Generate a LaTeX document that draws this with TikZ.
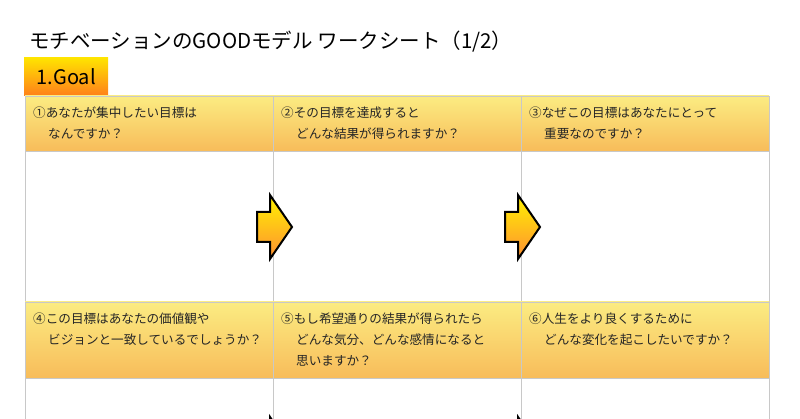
\documentclass[tikz,border=0pt]{standalone}
\usepackage{fontspec}
\setmainfont{Noto Sans CJK JP}
\begin{document}
\begin{tikzpicture}[x=1pt,y=-1pt,
  hdr/.style={top color=hy,bottom color=ho,draw=gline,line width=0.8pt},
  cell/.style={draw=gline,line width=0.8pt,fill=white},
  qtext/.style={anchor=north west,align=left,font=\fontsize{12.6}{21}\selectfont,text=black!85,inner sep=0pt},
  arr/.style={draw=black,line width=2pt,top color=yellow!90!orange,bottom color=orange!90!red!80,line join=miter}]
\definecolor{hy}{HTML}{FBEC82}
\definecolor{ho}{HTML}{F8BC5A}
\definecolor{gline}{HTML}{C8C8C8}
\useasboundingbox (0,0) rectangle (800,419);
\clip (0,0) rectangle (800,419);
\node[anchor=west,inner sep=0pt,font=\fontsize{20.5}{22}\selectfont] (title) at (29,42) {モチベーションのGOODモデル ワークシート（1/2）};
\node[anchor=north west,minimum width=84pt,minimum height=38pt,top color=yellow!80!orange,bottom color=orange!90!red!90,inner sep=0pt,font=\fontsize{20}{22}\selectfont] (goal) at (24,57) {1.Goal};
\foreach \i/\x in {1/25,2/273,3/521}{
  \draw[cell] (\x,151) rectangle ++(248,151);
  \draw[cell] (\x,378) rectangle ++(248,60);
  \draw[hdr] (\x,96) rectangle ++(248,55);
  \draw[hdr] (\x,302) rectangle ++(248,76);
}
\node[qtext] (q1) at (33,107) {①あなたが集中したい目標は\\\hspace{15pt}なんですか？};
\node[qtext] (q2) at (281,107) {②その目標を達成すると\\\hspace{15pt}どんな結果が得られますか？};
\node[qtext] (q3) at (529,107) {③なぜこの目標はあなたにとって\\\hspace{15pt}重要なのですか？};
\node[qtext] (q4) at (33,313) {④この目標はあなたの価値観や\\\hspace{15pt}ビジョンと一致しているでしょうか？};
\node[qtext] (q5) at (281,313) {⑤もし希望通りの結果が得られたら\\\hspace{15pt}どんな気分、どんな感情になると\\\hspace{15pt}思いますか？};
\node[qtext] (q6) at (529,313) {⑥人生をより良くするために\\\hspace{15pt}どんな変化を起こしたいですか？};
\foreach \dx/\dy in {0/0,248/0,0/222,248/222}{
  \draw[arr,shift={(\dx,\dy)}] (257,212) -- (270,212) -- (270,195) -- (292,227) -- (270,259) -- (270,242) -- (257,242) -- cycle;
}
\end{tikzpicture}
\end{document}
